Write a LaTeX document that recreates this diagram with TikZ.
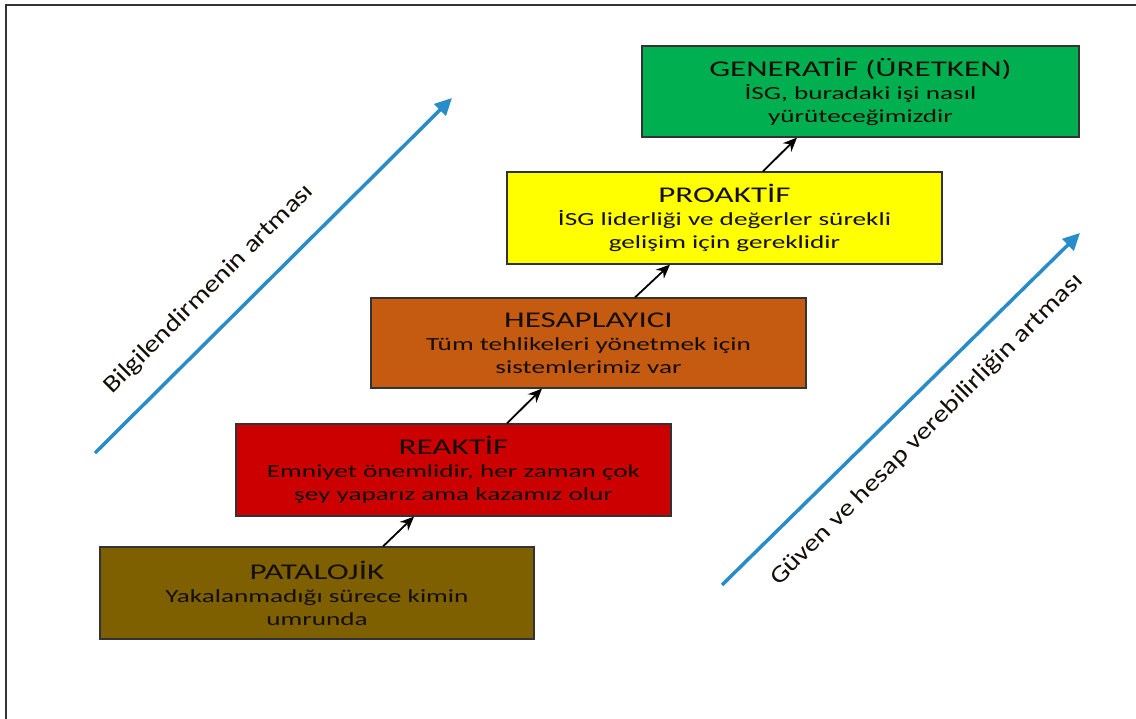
\documentclass[tikz,border=0pt]{standalone}
\usepackage{fontspec}
\setmainfont{Carlito}
\newfontfamily\widefont[FakeStretch=1.47]{Carlito}
\newfontfamily\midfont[FakeStretch=1.2]{Carlito}
\usetikzlibrary{arrows.meta,calc}
\definecolor{cgreen}{RGB}{0,176,80}
\definecolor{cyellow}{RGB}{255,255,0}
\definecolor{corange}{RGB}{197,90,17}
\definecolor{cred}{RGB}{204,0,0}
\definecolor{cbrown}{RGB}{127,96,0}
\definecolor{cblue}{RGB}{40,140,200}
\definecolor{ctext}{RGB}{20,15,8}
\tikzset{
  stage/.style={draw=black!80, line width=1.2pt, minimum width=435pt, minimum height=91pt,
    align=center, inner sep=0pt, text=ctext, font=\widefont\fontsize{18.5}{23}\selectfont},
  up/.style={-{Stealth[length=14pt,width=12pt]}, line width=1.8pt, black},
  trend/.style={-{Triangle[length=17pt,width=16pt]}, line width=3.5pt, cblue},
  trendlabel/.style={rotate=45, font=\midfont\fontsize{24}{28}\selectfont, text=ctext},
  frameline/.style={line width=1.5pt, black!80}
}
\newcommand{\stitle}[1]{{\fontsize{22.5}{23}\selectfont #1}\\}
\begin{document}
\begin{tikzpicture}[x=1pt,y=-1pt]
\useasboundingbox (0,0) rectangle (1136,719);
\fill[white] (0,0) rectangle (1136,719);
% frame
\coordinate (fa) at (6,719);
\coordinate (fb) at (6,5);
\coordinate (fc) at (1136,5);
\draw[frameline] (fa) -- (fb) -- (fc);
% stages
\node[stage, fill=cgreen, minimum width=437pt] (gen) at (860.5,91.5)
  {\stitle{GENERATİF (ÜRETKEN)}İSG, buradaki işi nasıl\\yürüteceğimizdir};
\node[stage, fill=cyellow, minimum height=92pt] (pro) at (724.5,218)
  {\stitle{PROAKTİF}İSG liderliği ve değerler sürekli\\gelişim için gereklidir};
\node[stage, fill=corange, minimum height=90pt] (hes) at (588.5,343)
  {\stitle{HESAPLAYICI}Tüm tehlikeleri yönetmek için\\sistemlerimiz var};
\node[stage, fill=cred, minimum height=92pt] (rea) at (453.5,470)
  {\stitle{REAKTİF}Emniyet önemlidir, her zaman çok\\şey yaparız ama kazamız olur};
\node[stage, fill=cbrown, minimum width=434pt, minimum height=92pt] (pat) at (317,593)
  {\stitle{PATALOJİK}Yakalanmadığı sürece kimin\\umrunda};
% step arrows
\draw[up] ([xshift=66pt]pat.north) -- ([xshift=-39.5pt]rea.south);
\draw[up] ([xshift=53.5pt]rea.north) -- ([xshift=-46.5pt]hes.south);
\draw[up] ([xshift=46.5pt]hes.north) -- ([xshift=-54.5pt]pro.south);
\draw[up] ([xshift=38.5pt]pro.north) -- ([xshift=-63.5pt]gen.south);
% trend arrows
\coordinate (l1) at (95,453);
\coordinate (l2) at (452,98);
\coordinate (r1) at (722,585);
\coordinate (r2) at (1080,233);
\draw[trend] (l1) -- (l2);
\draw[trend] (r1) -- (r2);
\node[trendlabel] (lt) at (209,289) {Bilgilendirmenin artması};
\node[trendlabel] (rt) at (927,430) {Güven ve hesap verebilirliğin artması};
\end{tikzpicture}
\end{document}
